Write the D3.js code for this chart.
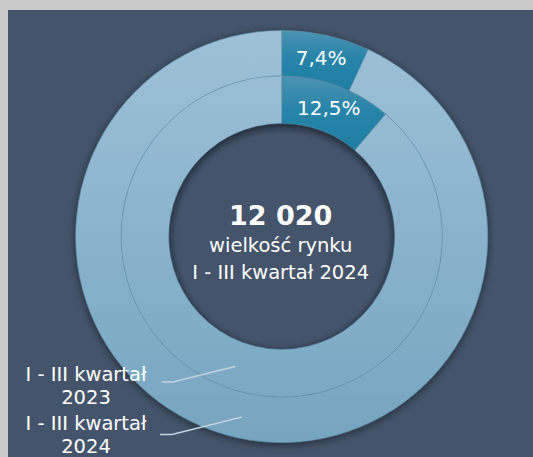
<!DOCTYPE html>
<html>
<head>
  <meta charset="utf-8">
  <script src="https://cdnjs.cloudflare.com/ajax/libs/d3/7.8.5/d3.min.js"></script>
  <style>
    body { margin: 0; background: #c9c9c9; }
    svg { display: block; }
    text { font-family: "DejaVu Sans", sans-serif; fill: #ffffff; }
  </style>
</head>
<body>
<div id="chart"></div>
<script>
// rings: outer = 2024, inner = 2023 (share of highlighted slice as drawn)
var outerValues = [6.9, 93.1];
var innerValues = [11.2, 88.8];
var outerLabels = ["7,4%", ""];
var innerLabels = ["12,5%", ""];
var centerLines = ["12 020", "wielkość rynku", "I - III kwartał 2024"];
var seriesNames = [["I - III kwartał", "2023"], ["I - III kwartał", "2024"]];

var width = 533, height = 457;
var cx = 281.7, cy = 236.5;
var rOuter = 206, rMid = 160.5, rInner = 113;

var svg = d3.select('#chart').append('svg')
    .attr('width', width)
    .attr('height', height);

var defs = svg.append('defs');

// light part gradient across whole donut (coords of the donut group)
var gLight = defs.append('linearGradient')
    .attr('id', 'light')
    .attr('gradientUnits', 'userSpaceOnUse')
    .attr('x1', 0).attr('y1', -rOuter)
    .attr('x2', 0).attr('y2', rOuter);
gLight.append('stop').attr('offset', '0%').attr('stop-color', '#9dc1d7');
gLight.append('stop').attr('offset', '100%').attr('stop-color', '#76a5c0');

var gDark = defs.append('linearGradient')
    .attr('id', 'dark')
    .attr('x1', 0).attr('y1', 0).attr('x2', 0).attr('y2', 1);
gDark.append('stop').attr('offset', '0%').attr('stop-color', '#4d92b2');
gDark.append('stop').attr('offset', '45%').attr('stop-color', '#2785a9');
gDark.append('stop').attr('offset', '100%').attr('stop-color', '#1f7ea3');

var shadow = defs.append('filter')
    .attr('id', 'shadow')
    .attr('x', '-20%').attr('y', '-20%').attr('width', '140%').attr('height', '140%');
shadow.append('feDropShadow')
    .attr('dx', 0).attr('dy', 2)
    .attr('stdDeviation', 4)
    .attr('flood-color', '#000')
    .attr('flood-opacity', 0.5);

var blur = defs.append('filter').attr('id', 'blur');
blur.append('feGaussianBlur').attr('stdDeviation', 3);

defs.append('clipPath').attr('id', 'hole')
  .append('circle').attr('cx', cx).attr('cy', cy).attr('r', rInner);

// background panel
svg.append('rect')
    .attr('x', 8).attr('y', 10)
    .attr('width', width - 8).attr('height', height - 10)
    .attr('fill', '#44546a');

//----------------------------------------
// donut
var pie = d3.pie().sort(null).value(function(d) { return d; });

var arcOuter = d3.arc().innerRadius(rMid).outerRadius(rOuter);
var arcInner = d3.arc().innerRadius(rInner).outerRadius(rMid);

var donut = svg.append('g')
    .attr('transform', 'translate(' + cx + ',' + cy + ')');

var rings = donut.append('g').attr('filter', 'url(#shadow)');

function fillFor(i) { return i === 0 ? 'url(#dark)' : 'url(#light)'; }

rings.selectAll('path.outer')
    .data(pie(outerValues))
    .enter().append('path')
    .attr('class', 'outer')
    .attr('d', arcOuter)
    .attr('fill', function(d, i) { return fillFor(i); })
    .attr('stroke', '#6290ad')
    .attr('stroke-width', 0.5);

rings.selectAll('path.inner')
    .data(pie(innerValues))
    .enter().append('path')
    .attr('class', 'inner')
    .attr('d', arcInner)
    .attr('fill', function(d, i) { return fillFor(i); })
    .attr('stroke', '#6290ad')
    .attr('stroke-width', 0.5);

// inner shadow of the hole
svg.append('g')
    .attr('clip-path', 'url(#hole)')
  .append('circle')
    .attr('cx', cx).attr('cy', cy + 3)
    .attr('r', rInner + 5)
    .attr('fill', 'none')
    .attr('stroke', '#1c2533')
    .attr('stroke-opacity', 0.55)
    .attr('stroke-width', 10)
    .attr('filter', 'url(#blur)');

// slice labels
donut.selectAll('text.lo')
    .data(pie(outerValues))
    .enter().append('text')
    .attr('class', 'lo')
    .attr('transform', function(d) { return 'translate(' + arcOuter.centroid(d) + ')'; })
    .attr('text-anchor', 'middle')
    .attr('dy', '0.35em')
    .style('font-size', '20px')
    .text(function(d, i) { return outerLabels[i]; });

donut.selectAll('text.li')
    .data(pie(innerValues))
    .enter().append('text')
    .attr('class', 'li')
    .attr('transform', function(d) { return 'translate(' + arcInner.centroid(d) + ')'; })
    .attr('text-anchor', 'middle')
    .attr('dy', '0.35em')
    .style('font-size', '20px')
    .text(function(d, i) { return innerLabels[i]; });

//----------------------------------------
// center text
svg.append('text')
    .attr('x', cx - 1).attr('y', 225)
    .attr('text-anchor', 'middle')
    .style('font-size', '27px')
    .style('font-weight', 'bold')
    .text(centerLines[0]);
svg.append('text')
    .attr('x', cx - 1).attr('y', 252)
    .attr('text-anchor', 'middle')
    .style('font-size', '19.5px')
    .text(centerLines[1]);
svg.append('text')
    .attr('x', cx - 1).attr('y', 279)
    .attr('text-anchor', 'middle')
    .style('font-size', '19.5px')
    .text(centerLines[2]);

//----------------------------------------
// series labels with leader lines
var leaders = [
    { tx: 86, ty: 381, pts: [[162, 382], [173, 382], [235, 366.5]] },
    { tx: 86, ty: 430, pts: [[160, 434.5], [172, 434.5], [242, 417]] }
];

leaders.forEach(function(l, i) {
    svg.append('path')
        .attr('d', d3.line()(l.pts))
        .attr('fill', 'none')
        .attr('stroke', '#c4d3df')
        .attr('stroke-width', 1.5);
    var t = svg.append('text')
        .attr('x', l.tx).attr('y', l.ty)
        .attr('text-anchor', 'middle')
        .style('font-size', '19.5px');
    t.append('tspan').attr('x', l.tx).text(seriesNames[i][0]);
    t.append('tspan').attr('x', l.tx).attr('dy', 22.5).text(seriesNames[i][1]);
});
</script>
</body>
</html>
